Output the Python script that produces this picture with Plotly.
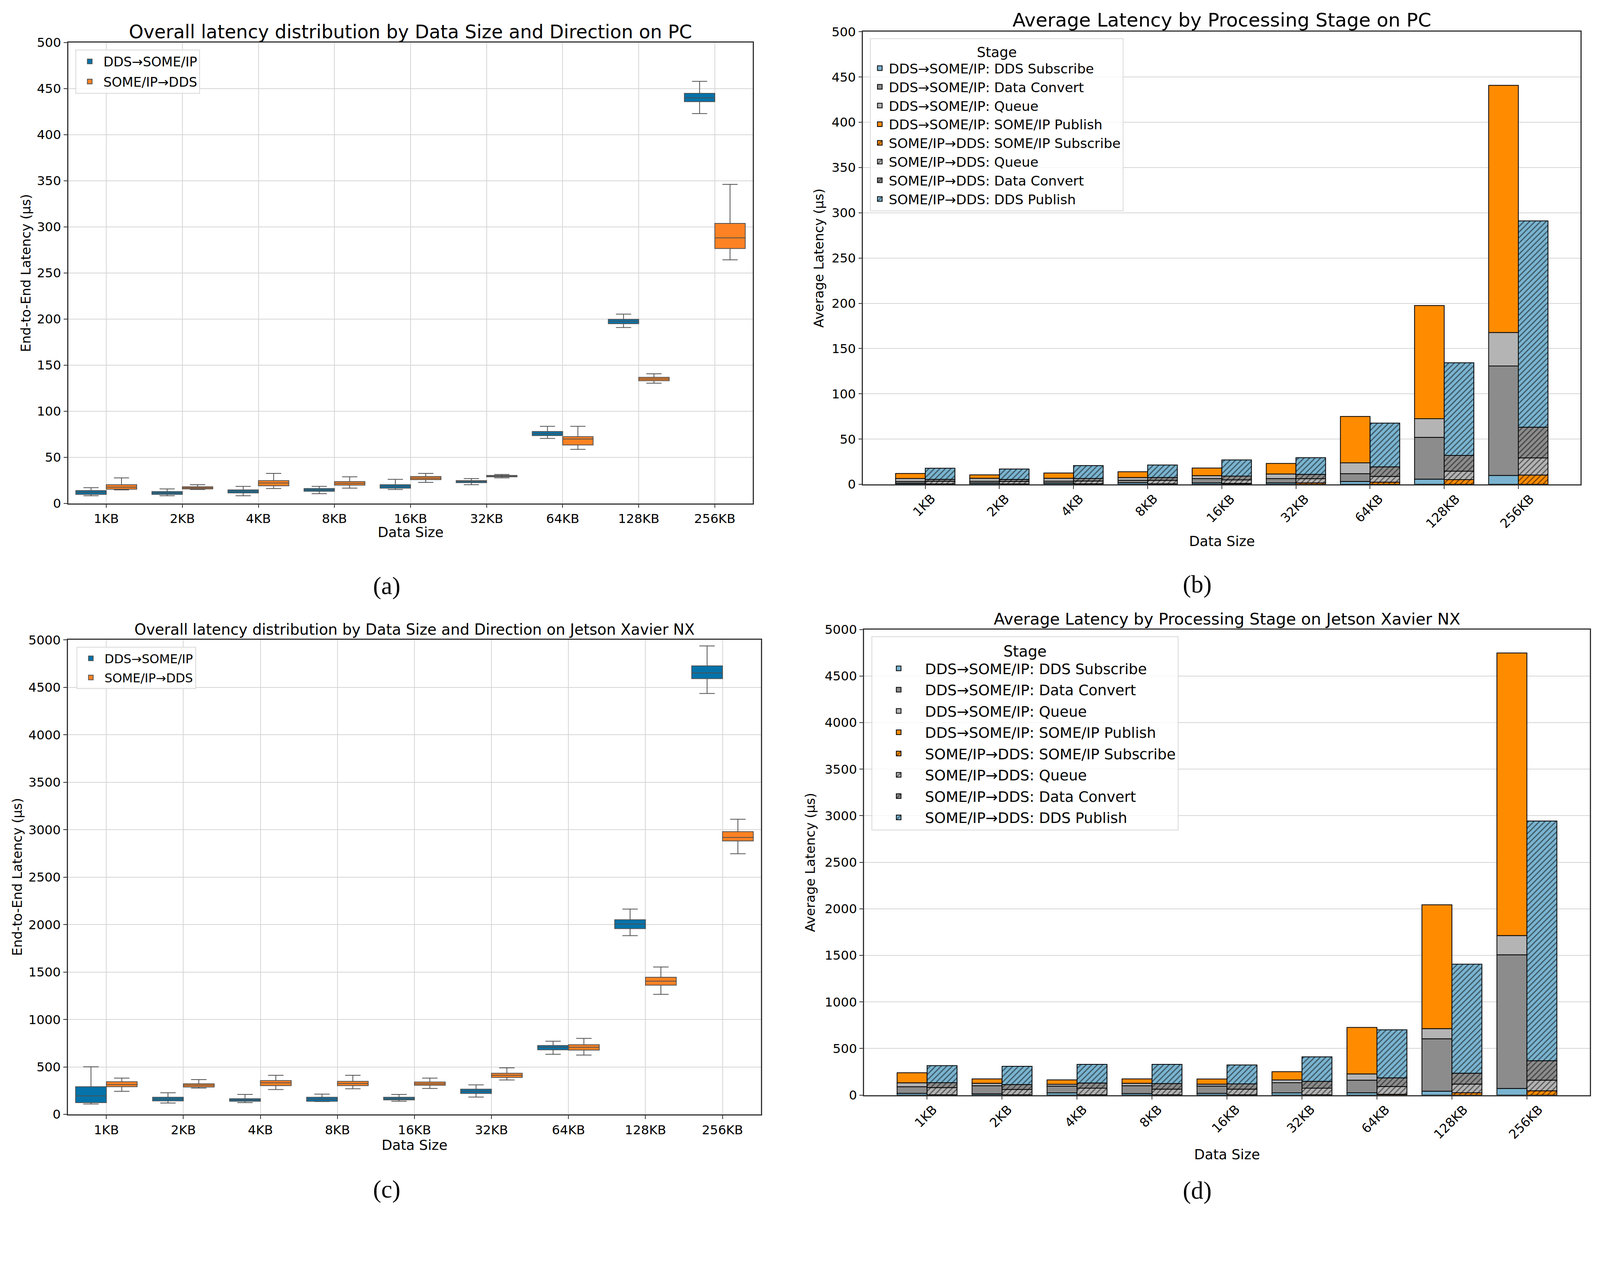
import numpy as np
import plotly.graph_objects as go

# page coordinates below are measured on the 4306x3272 reference,
# K maps them onto the css pixels the page is actually shown at
K = 0.957
WF, HF = 4105, 3115

sizes = ["1KB", "2KB", "4KB", "8KB", "16KB", "32KB", "64KB", "128KB", "256KB"]

# (a) PC end-to-end latency box stats (us)
pc_d2s_low = [8.2, 8.2, 8.2, 10.4, 14.9, 20.1, 70.4, 190.8, 422.9]
pc_d2s_q1 = [9.7, 9.7, 11.2, 13.0, 16.4, 22.4, 73.4, 194.9, 435.9]
pc_d2s_med = [11.9, 11.2, 13.0, 14.5, 18.3, 23.8, 75.6, 197.5, 440.0]
pc_d2s_q3 = [13.8, 12.7, 14.5, 16.0, 20.1, 24.6, 77.9, 199.7, 444.9]
pc_d2s_high = [17.0, 15.6, 18.3, 18.3, 26.0, 26.8, 83.5, 205.3, 457.9]

pc_s2d_low = [14.5, 14.9, 16.0, 16.4, 22.7, 27.6, 58.5, 130.4, 264.2]
pc_s2d_q1 = [15.3, 15.6, 19.0, 19.7, 25.7, 28.7, 63.3, 133.0, 276.5]
pc_s2d_med = [17.5, 16.8, 22.0, 21.6, 27.2, 29.4, 69.7, 134.9, 288.0]
pc_s2d_q3 = [20.1, 17.9, 24.6, 23.5, 29.0, 30.2, 72.3, 136.7, 303.7]
pc_s2d_high = [27.6, 20.1, 32.4, 28.7, 32.4, 31.3, 83.5, 140.5, 346.1]

# (c) Jetson end-to-end latency box stats (us)
jx_d2s_low = [109, 120, 124, 135, 138, 183, 633, 1883, 4435]
jx_d2s_q1 = [124, 142, 138, 138, 153, 221, 681, 1958, 4592]
jx_d2s_med = [195, 161, 153, 161, 165, 243, 707, 2006, 4652]
jx_d2s_q3 = [292, 180, 165, 180, 180, 266, 726, 2051, 4727]
jx_d2s_high = [502, 228, 210, 213, 210, 311, 771, 2163, 4937]

jx_s2d_low = [243, 277, 262, 270, 273, 363, 625, 1265, 2747]
jx_s2d_q1 = [292, 288, 303, 303, 307, 389, 677, 1362, 2882]
jx_s2d_med = [314, 307, 333, 326, 322, 412, 707, 1404, 2919]
jx_s2d_q3 = [344, 322, 356, 348, 341, 434, 734, 1445, 2979]
jx_s2d_high = [382, 367, 412, 412, 382, 490, 801, 1553, 3110]

# (b) PC average latency per stage (us)
pc_d2s_sub = [1.2, 1.4, 1.5, 1.9, 1.6, 1.6, 3.2, 5.7, 9.8]
pc_d2s_conv = [2.0, 2.0, 2.0, 2.5, 4.8, 4.8, 8.6, 46.2, 121.0]
pc_d2s_queue = [3.3, 3.3, 3.2, 3.2, 3.2, 5.1, 12.0, 20.6, 37.0]
pc_d2s_pub = [5.5, 3.8, 5.8, 6.3, 8.4, 11.6, 51.2, 125.0, 273.0]

pc_s2d_sub = [0.5, 0.5, 0.6, 0.6, 1.0, 1.6, 2.4, 5.2, 10.3]
pc_s2d_queue = [2.9, 2.7, 3.1, 3.8, 4.0, 4.7, 6.4, 9.4, 19.0]
pc_s2d_conv = [2.1, 2.2, 2.8, 3.2, 4.1, 4.7, 10.5, 17.4, 33.8]
pc_s2d_pub = [12.3, 11.6, 14.2, 13.8, 17.9, 18.5, 48.4, 102.3, 228.0]

# (d) Jetson average latency per stage (us)
jx_d2s_sub = [18, 13, 24, 16, 19, 24, 25, 42, 71]
jx_d2s_conv = [72, 87, 72, 84, 77, 109, 135, 563, 1436]
jx_d2s_queue = [42, 27, 20, 27, 21, 29, 67, 109, 206]
jx_d2s_pub = [108, 47, 47, 47, 56, 89, 499, 1330, 3035]

jx_s2d_sub = [3, 3, 3, 3, 3, 3, 8, 25, 46]
jx_s2d_queue = [77, 57, 71, 61, 61, 71, 84, 93, 114]
jx_s2d_conv = [53, 53, 56, 59, 56, 73, 93, 117, 209]
jx_s2d_pub = [183, 196, 200, 207, 204, 264, 516, 1171, 2574]

BLUE = "#0473aa"
ORANGE = "#fd8223"
LBLUE = "#7ab4d0"
GRAY = "#8c8c8c"
LGRAY = "#b4b4b4"
DORANGE = "#ff8c00"
FONT = "DejaVu Sans"


def px(x):
    return (K * x / 1.008 - 8) / WF


def py(y):
    return 1 - (K * (y - 16.5) * 1.0055 - 8) / HF


def fs(s):
    return round(s * K, 1)


fig = go.Figure()


def add_boxes(xa, ya, leg, d2s, s2d):
    for name, stats, col, grp in [("DDS→SOME/IP", d2s, BLUE, "a"),
                                  ("SOME/IP→DDS", s2d, ORANGE, "b")]:
        low, q1, med, q3, high = stats
        fig.add_trace(go.Box(
            x=sizes, q1=q1, median=med, q3=q3, lowerfence=low, upperfence=high,
            name=name, offsetgroup=grp, fillcolor=col, legendgroup=leg + name,
            line=dict(color="#505050", width=2), whiskerwidth=0.5,
            xaxis=xa, yaxis=ya, legend=leg))


def add_stack(xa, ya, leg, d2s, s2d):
    d2s_names = ["DDS Subscribe", "Data Convert", "Queue", "SOME/IP Publish"]
    d2s_cols = [LBLUE, GRAY, LGRAY, DORANGE]
    s2d_names = ["SOME/IP Subscribe", "Queue", "Data Convert", "DDS Publish"]
    s2d_cols = [DORANGE, LGRAY, GRAY, LBLUE]
    for prefix, parts, names, cols, grp, hatch in [
            ("DDS→SOME/IP: ", d2s, d2s_names, d2s_cols, "a", ""),
            ("SOME/IP→DDS: ", s2d, s2d_names, s2d_cols, "b", "/")]:
        base = np.zeros(len(sizes))
        for vals, nm, col in zip(parts, names, cols):
            vals = np.array(vals, dtype=float)
            fig.add_trace(go.Bar(
                x=sizes, y=vals, base=base.copy(), name=prefix + nm,
                offsetgroup=grp, legendgroup=leg + prefix + nm,
                marker=dict(color=col, line=dict(color="black", width=2),
                            pattern=dict(shape=hatch, fillmode="overlay",
                                         fgcolor="black", size=10, solidity=0.3)),
                xaxis=xa, yaxis=ya, legend=leg))
            base = base + vals


add_boxes("x", "y", "legend",
          (pc_d2s_low, pc_d2s_q1, pc_d2s_med, pc_d2s_q3, pc_d2s_high),
          (pc_s2d_low, pc_s2d_q1, pc_s2d_med, pc_s2d_q3, pc_s2d_high))
add_stack("x2", "y2", "legend2",
          (pc_d2s_sub, pc_d2s_conv, pc_d2s_queue, pc_d2s_pub),
          (pc_s2d_sub, pc_s2d_queue, pc_s2d_conv, pc_s2d_pub))
add_boxes("x3", "y3", "legend3",
          (jx_d2s_low, jx_d2s_q1, jx_d2s_med, jx_d2s_q3, jx_d2s_high),
          (jx_s2d_low, jx_s2d_q1, jx_s2d_med, jx_s2d_q3, jx_s2d_high))
add_stack("x4", "y4", "legend4",
          (jx_d2s_sub, jx_d2s_conv, jx_d2s_queue, jx_d2s_pub),
          (jx_s2d_sub, jx_s2d_queue, jx_s2d_conv, jx_s2d_pub))

# plot areas (reference pixels): left, right, top, bottom
boxes = {
    "a": (184, 2030, 111, 1352),
    "b": (2327, 4262, 82, 1301),
    "c": (183, 2052, 1720, 2998),
    "d": (2330, 4287, 1692, 2946),
}

axis_common = dict(showline=True, mirror=True, linecolor="#333333", linewidth=2.5,
                   ticks="outside", ticklen=9, tickwidth=2, tickcolor="#333333",
                   tickfont=dict(family=FONT, size=fs(34), color="black"),
                   zeroline=False, gridcolor="#d6d6d6", gridwidth=2)

layout = {}
specs = [("a", "", [0, 500], 50, [-0.5, 8.5], True),
         ("b", "2", [0, 500], 50, [-0.84, 8.84], False),
         ("c", "3", [0, 5000], 500, [-0.5, 8.5], True),
         ("d", "4", [0, 5000], 500, [-0.84, 8.84], False)]
for key, n, yr, dt, xr, boxplot in specs:
    l, r, t, b = boxes[key]
    layout["xaxis" + n] = dict(axis_common, domain=[px(l), px(r)], anchor="y" + n,
                               type="category", range=xr, showgrid=boxplot,
                               showticklabels=boxplot)
    layout["yaxis" + n] = dict(axis_common, domain=[py(b), py(t)], anchor="x" + n,
                               range=yr, dtick=dt, showgrid=True)

leg_common = dict(bgcolor="rgba(255,255,255,0.8)", bordercolor="#d8d8d8",
                  borderwidth=2, xanchor="left", yanchor="top", traceorder="grouped")
layout["legend"] = dict(leg_common, x=px(203), y=py(130), itemwidth=60,
                        tracegroupgap=5,
                        font=dict(family=FONT, size=fs(35), color="black"))
layout["legend2"] = dict(leg_common, x=px(2346), y=py(99), itemwidth=36,
                         tracegroupgap=0,
                         font=dict(family=FONT, size=fs(36), color="black"),
                         title=dict(text="Stage", side="top center",
                                    font=dict(family=FONT, size=fs(37), color="black")))
layout["legend3"] = dict(leg_common, x=px(206), y=py(1739), itemwidth=60,
                         tracegroupgap=5,
                         font=dict(family=FONT, size=fs(33), color="black"))
layout["legend4"] = dict(leg_common, x=px(2350), y=py(1710), itemwidth=125,
                         tracegroupgap=3,
                         font=dict(family=FONT, size=fs(39), color="black"),
                         title=dict(text="Stage", side="top center",
                                    font=dict(family=FONT, size=fs(40), color="black")))

ann = []


def text_at(txt, x, y, size, angle=0, family=FONT):
    ann.append(dict(text=txt, x=px(x), y=py(y), xref="paper", yref="paper",
                    showarrow=False, textangle=angle, xanchor="center",
                    yanchor="middle", font=dict(family=family, size=fs(size), color="black")))


titles = {
    "a": ("Overall latency distribution by Data Size and Direction on PC", 82, 49.5),
    "b": ("Average Latency by Processing Stage on PC", 51, 51),
    "c": ("Overall latency distribution by Data Size and Direction on Jetson Xavier NX", 1692, 40),
    "d": ("Average Latency by Processing Stage on Jetson Xavier NX", 1664, 43),
}
for key, (txt, y, s) in titles.items():
    l, r, t, b = boxes[key]
    text_at(txt, (l + r) / 2, y, s)

xtitles = {"a": 1430, "b": 1454, "c": 3080, "d": 3106}
for key, y in xtitles.items():
    l, r, t, b = boxes[key]
    text_at("Data Size", (l + r) / 2, y, 37)

ytitles = {"a": (70, "End-to-End Latency (μs)"), "b": (2208, "Average Latency (μs)"),
           "c": (47, "End-to-End Latency (μs)"), "d": (2185, "Average Latency (μs)")}
for key, (x, txt) in ytitles.items():
    l, r, t, b = boxes[key]
    text_at(txt, x, (t + b) / 2, 35, angle=-90)

# rotated category labels, centred under each tick like the reference
for key, xa in [("b", "x2"), ("d", "x4")]:
    l, r, t, b = boxes[key]
    for s in sizes:
        ann.append(dict(text=s, x=s, xref=xa, y=py(b + 16), yref="paper",
                        showarrow=False, textangle=-45, xanchor="center",
                        yanchor="top", xshift=-3,
                        font=dict(family=FONT, size=fs(34), color="black")))

for lab, x, y in [("(a)", 1043, 1575), ("(b)", 3228, 1570),
                  ("(c)", 1043, 3200), ("(d)", 3228, 3203)]:
    text_at(lab, x, y, 66, family="Liberation Serif")

fig.update_layout(**layout)
fig.update_layout(
    width=WF, height=HF, margin=dict(l=0, r=0, t=0, b=0),
    paper_bgcolor="white", plot_bgcolor="white",
    boxmode="group", boxgap=0.2, boxgroupgap=0,
    barmode="group", bargap=0.2, bargroupgap=0,
    annotations=ann, showlegend=True,
)

fig.write_html("out.html")
